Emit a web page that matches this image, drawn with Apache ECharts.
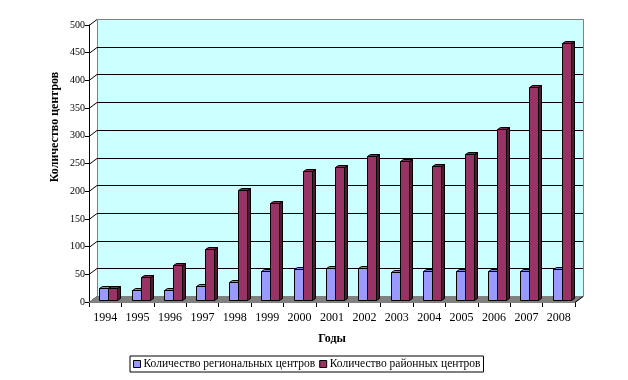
<!DOCTYPE html>
<html><head><meta charset="utf-8">
<script src="https://cdn.jsdelivr.net/npm/echarts@6/dist/echarts.min.js"></script>
<style>html,body{margin:0;padding:0;background:#fff}#c{width:628px;height:380px}</style>
</head><body><div id="c"></div>
<script>
const years = ['1994','1995','1996','1997','1998','1999','2000','2001','2002','2003','2004','2005','2006','2007','2008'];
const regional = [21, 18, 18, 25, 32, 52, 56, 58, 57, 51, 53, 52, 52, 52, 56];
const district = [21, 41, 63, 92, 198, 175, 232, 240, 260, 251, 242, 264, 309, 385, 464];
const yTicks = [0, 50, 100, 150, 200, 250, 300, 350, 400, 450, 500];
const seriesNames = ['Количество региональных центров', 'Количество районных центров'];

const FONT = '"Liberation Serif", "Times New Roman", serif';
const DX = 8, DY = -6;   // wall depth
const BX = 3, BY = -2;   // bar position inside depth
const SX = 3, SY = -2;   // bar depth

function wallRender(params, api) {
  const cs = params.coordSys;
  const gx = cs.x, gw = cs.width;
  const y0 = api.coord([0, 0])[1];
  const yTop = api.coord([0, 500])[1];
  const ch = [];
  ch.push({type: 'rect', shape: {x: gx + DX + 0.5, y: yTop + DY + 0.5, width: gw, height: y0 - yTop},
    style: {fill: '#CCFFFF', stroke: '#808080', lineWidth: 1}});
  yTicks.forEach(v => {
    const y = Math.round(api.coord([0, v])[1]) + 0.5;
    if (v > 0 && v < 500) {
      ch.push({type: 'line', shape: {x1: gx + DX, y1: y + DY, x2: gx + gw + DX, y2: y + DY},
        style: {stroke: '#000', lineWidth: 1}});
    }
    ch.push({type: 'line', shape: {x1: gx, y1: y, x2: gx + DX, y2: y + DY},
      style: {stroke: '#000', lineWidth: 1}});
  });
  const yb = Math.round(y0) + 0.5;
  ch.push({type: 'polygon', shape: {points: [[gx, yb], [gx + gw, yb], [gx + gw + DX, yb + DY], [gx + DX, yb + DY]]},
    style: {fill: '#808080', stroke: '#808080', lineWidth: 1}});
  ch.push({type: 'line', shape: {x1: gx + gw, y1: yb, x2: gx + gw + DX, y2: yb + DY},
    style: {stroke: '#000', lineWidth: 1}});
  return {type: 'group', children: ch};
}

function barRender(side, fill, topCol, sideCol) {
  return function (params, api) {
    const i = api.value(0), v = api.value(1);
    const p = api.coord([i, v]), b = api.coord([i, 0]);
    const bw = api.size([1, 0])[0];
    const w = Math.round(bw * 0.29);
    const cx = Math.round(p[0] + BX) + 0.5;
    const x0 = side === 0 ? cx - w : cx;
    const x1 = x0 + w;
    const yT = Math.round(p[1] + BY) + 0.5, yB = Math.round(b[1] + BY) + 0.5;
    const st = {stroke: '#000', lineWidth: 1};
    return {type: 'group', children: [
      {type: 'polygon', shape: {points: [[x1, yB], [x1 + SX, yB + SY], [x1 + SX, yT + SY], [x1, yT]]},
        style: Object.assign({fill: sideCol}, st)},
      {type: 'polygon', shape: {points: [[x0, yT], [x0 + SX, yT + SY], [x1 + SX, yT + SY], [x1, yT]]},
        style: Object.assign({fill: topCol}, st)},
      {type: 'rect', shape: {x: x0, y: yT, width: w, height: yB - yT},
        style: Object.assign({fill: fill}, st)}
    ]};
  };
}

const chart = echarts.init(document.getElementById('c'), null, {renderer: 'canvas'});
chart.setOption({
  backgroundColor: '#ffffff',
  animation: false,
  grid: {left: 89, top: 25, right: 53, bottom: 78, containLabel: false},
  legend: {
    data: seriesNames,
    left: 130, top: 356,
    padding: [2, 3, 2, 3],
    itemGap: 4,
    itemWidth: 7, itemHeight: 7,
    icon: 'rect',
    borderColor: '#000', borderWidth: 1,
    itemStyle: {borderColor: '#000', borderWidth: 1},
    textStyle: {fontFamily: FONT, fontSize: 11.5, color: '#000', padding: [0, 0, 0, -2]}
  },
  xAxis: {
    type: 'category',
    data: years,
    boundaryGap: true,
    name: 'Годы',
    nameLocation: 'middle',
    nameGap: 31,
    nameTextStyle: {fontFamily: FONT, fontSize: 12, fontWeight: 'bold', color: '#000'},
    axisLine: {lineStyle: {color: '#000', width: 1}},
    axisTick: {show: true, length: 5, lineStyle: {color: '#000'}},
    axisLabel: {fontFamily: FONT, fontSize: 12, color: '#000', margin: 10},
    splitLine: {show: false}
  },
  yAxis: {
    type: 'value',
    min: 0, max: 500, interval: 50,
    axisLine: {show: true, lineStyle: {color: '#000', width: 1}},
    axisTick: {show: true, length: 4, lineStyle: {color: '#000'}},
    axisLabel: {fontFamily: FONT, fontSize: 10, color: '#000', margin: 4},
    splitLine: {show: false}
  },
  graphic: [{
    type: 'text', x: 55, y: 127, rotation: Math.PI / 2,
    style: {text: 'Количество центров', font: 'bold 12px ' + FONT, fill: '#000', align: 'center', verticalAlign: 'middle'}
  }],
  series: [
    {type: 'custom', name: '_wall', silent: true, z: 1, data: [[0, 0]], renderItem: wallRender, encode: {x: 0, y: 1}},
    {type: 'custom', name: seriesNames[0], z: 3, itemStyle: {color: '#9999FF'},
      data: regional.map((v, i) => [i, v]), encode: {x: 0, y: 1},
      renderItem: barRender(0, '#9999FF', '#8080DD', '#4D4D80')},
    {type: 'custom', name: seriesNames[1], z: 4, itemStyle: {color: '#993366'},
      data: district.map((v, i) => [i, v]), encode: {x: 0, y: 1},
      renderItem: barRender(1, '#993366', '#7A2952', '#4D1A33')}
  ]
});
</script>
</body></html>
